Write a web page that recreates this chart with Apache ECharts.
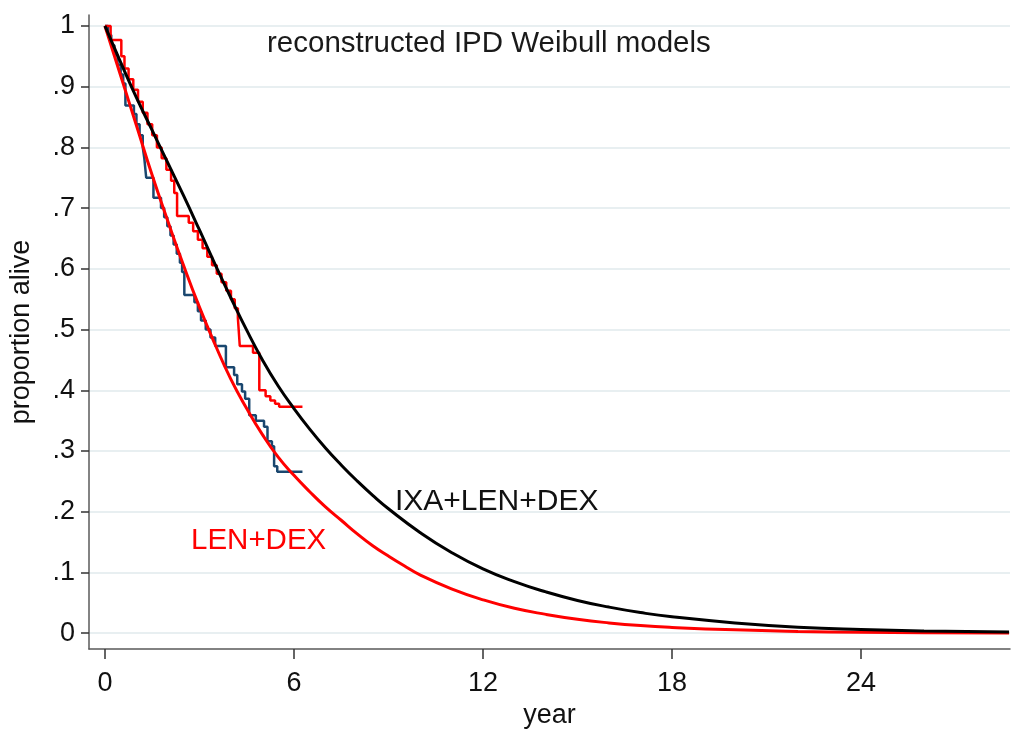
<!DOCTYPE html>
<html>
<head>
<meta charset="utf-8">
<script src="https://cdn.jsdelivr.net/npm/echarts@6/dist/echarts.min.js"></script>
<style>
  html, body { margin: 0; padding: 0; background: #fff; }
  #chart { width: 1019px; height: 734px; }
</style>
</head>
<body>
<div id="chart"></div>
<script>
// axis ticks
const xTicks = [0, 6, 12, 18, 24];
const yTicks = [0, 0.1, 0.2, 0.3, 0.4, 0.5, 0.6, 0.7, 0.8, 0.9, 1];
const yTickLabels = ['0', '.1', '.2', '.3', '.4', '.5', '.6', '.7', '.8', '.9', '1'];

// Weibull model curves [year, proportion alive]
const weibullIxa = [[0,1],[0.5,0.94],[1,0.882],[1.5,0.828],[2,0.774],[2.5,0.72],[3,0.664],[3.5,0.607],
  [4,0.552],[4.5,0.499],[5,0.45],[5.5,0.407],[6,0.37],[6.5,0.336],[7,0.305],[7.5,0.277],[8,0.251],
  [8.5,0.227],[9,0.205],[10,0.166],[11,0.133],[12,0.106],[13,0.085],[14,0.068],[15,0.054],[16,0.043],
  [17,0.034],[18,0.027],[20,0.017],[22,0.01],[24,0.006],[26,0.0035],[28.7,0.0018]];
const weibullLen = [[0,1],[0.5,0.918],[1,0.836],[1.5,0.754],[2,0.678],[2.5,0.605],[3,0.537],[3.5,0.475],
  [4,0.418],[4.5,0.37],[5,0.327],[5.5,0.29],[6,0.26],[6.5,0.233],[7,0.208],[7.5,0.186],[8,0.164],
  [8.5,0.144],[9,0.127],[9.5,0.111],[10,0.096],[11,0.073],[12,0.055],[13,0.041],[14,0.031],[15,0.023],
  [16,0.017],[17,0.0125],[18,0.0095],[20,0.0055],[22,0.003],[24,0.0016],[26,0.0008],[28.7,0.0003]];

// reconstructed IPD Kaplan-Meier steps
const kmIxa = [[0,1],[0.18,0.977],[0.52,0.95],[0.62,0.93],[0.75,0.912],[0.9,0.895],[1.05,0.875],
  [1.2,0.857],[1.35,0.838],[1.5,0.82],[1.65,0.8],[1.8,0.782],[1.95,0.763],[2.1,0.745],[2.2,0.725],
  [2.29,0.687],[2.66,0.676],[2.8,0.662],[2.95,0.648],[3.1,0.634],[3.25,0.62],[3.4,0.606],[3.55,0.592],
  [3.7,0.578],[3.85,0.564],[4.0,0.55],[4.12,0.535],[4.22,0.519],[4.28,0.473],[4.7,0.462],[4.9,0.4],
  [5.1,0.39],[5.25,0.383],[5.4,0.378],[5.53,0.373],[6.27,0.373]];
const kmLen = [[0,1],[0.1,0.985],[0.2,0.968],[0.3,0.952],[0.4,0.936],[0.5,0.92],[0.58,0.905],[0.65,0.869],
  [0.92,0.855],[1.0,0.838],[1.1,0.82],[1.2,0.8],[1.25,0.782],[1.31,0.75],[1.54,0.717],[1.78,0.7],
  [1.88,0.685],[1.98,0.67],[2.08,0.655],[2.18,0.64],[2.28,0.625],[2.38,0.61],[2.45,0.595],[2.52,0.557],
  [2.84,0.545],[2.95,0.53],[3.05,0.515],[3.2,0.5],[3.35,0.487],[3.5,0.473],[3.84,0.438],[4.1,0.425],
  [4.2,0.41],[4.35,0.398],[4.45,0.386],[4.58,0.359],[4.79,0.35],[5.05,0.34],[5.16,0.316],[5.3,0.308],
  [5.37,0.275],[5.47,0.266],[6.27,0.266]];

const chart = echarts.init(document.getElementById('chart'));
const font = 'Liberation Sans, Arial, sans-serif';

const option = {
  backgroundColor: '#fff',
  animation: false,
  grid: { left: 86, right: 9, top: 15, bottom: 77, containLabel: false },
  xAxis: {
    type: 'value',
    min: -0.506,
    max: 28.73,
    name: 'year',
    nameLocation: 'middle',
    nameGap: 53,
    nameTextStyle: { fontSize: 27, color: '#111', fontFamily: font },
    axisLine: { show: true, onZero: false, lineStyle: { color: '#5a5a5a', width: 1.5 } },
    axisTick: { show: true, customValues: xTicks, length: 10, lineStyle: { color: '#333', width: 1.5 } },
    axisLabel: { customValues: xTicks, fontSize: 27, color: '#111', fontFamily: font, margin: 21 },
    splitLine: { show: false }
  },
  yAxis: {
    type: 'value',
    min: -0.026,
    max: 1.018,
    name: 'proportion alive',
    nameLocation: 'middle',
    nameGap: 54,
    nameTextStyle: { fontSize: 27, color: '#111', fontFamily: font },
    axisLine: { show: true, onZero: false, lineStyle: { color: '#5a5a5a', width: 1.5 } },
    axisTick: { show: true, customValues: yTicks, length: 8, lineStyle: { color: '#333', width: 1.5 } },
    axisLabel: {
      customValues: yTicks, fontSize: 27, color: '#111', fontFamily: font, margin: 14,
      formatter: (v) => yTickLabels[Math.round(v * 10)]
    },
    splitLine: { show: true, lineStyle: { color: '#e8eff1', width: 2 } }
  },
  graphic: [
    { type: 'text', left: 267, top: 29,
      style: { text: 'reconstructed IPD Weibull models', fontSize: 29.5, fill: '#1a1a1a', fontFamily: font } },
    { type: 'text', left: 395, top: 487,
      style: { text: 'IXA+LEN+DEX', fontSize: 30, fill: '#111', fontFamily: font } },
    { type: 'text', left: 191, top: 526,
      style: { text: 'LEN+DEX', fontSize: 29.5, fill: '#ff0000', fontFamily: font } }
  ],
  series: [
    {
      name: 'KM LEN+DEX', type: 'line', step: 'end', data: kmLen,
      symbol: 'none', lineStyle: { color: '#1a476f', width: 2.5 }, z: 2
    },
    {
      name: 'KM IXA+LEN+DEX', type: 'line', step: 'end', data: kmIxa,
      symbol: 'none', lineStyle: { color: '#ff0000', width: 2.5 }, z: 2
    },
    {
      name: 'Weibull LEN+DEX', type: 'line', smooth: true, data: weibullLen,
      symbol: 'none', lineStyle: { color: '#ff0000', width: 3 }, z: 3
    },
    {
      name: 'Weibull IXA+LEN+DEX', type: 'line', smooth: true, data: weibullIxa,
      symbol: 'none', lineStyle: { color: '#000000', width: 3 }, z: 3
    }
  ]
};
chart.setOption(option);
</script>
</body>
</html>
